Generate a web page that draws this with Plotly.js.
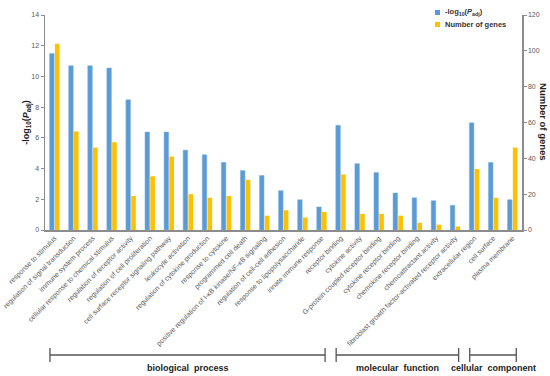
<!DOCTYPE html>
<html>
<head>
<meta charset="utf-8">
<script src="https://cdn.plot.ly/plotly-3.0.1.min.js"></script>
<style>html,body{margin:0;padding:0;background:#fff;}#chart{width:550px;height:376px;}</style>
</head>
<body>
<div id="chart"></div>
<script>
var categories = [
  "response to stimulus",
  "regulation of signal transduction",
  "immune system process",
  "cellular response to chemical stimulus",
  "regulation of receptor activity",
  "regulation of cell proliferation",
  "cell surface receptor signaling pathway",
  "leukocyte activation",
  "regulation of cytokine production",
  "response to cytokine",
  "programmed cell death",
  "positive regulation of I-κB kinase/NF-κB signaling",
  "regulation of cell-cell adhesion",
  "response to lipopolysaccharide",
  "innate immune response",
  "receptor binding",
  "cytokine activity",
  "G-protein coupled receptor binding",
  "cytokine receptor binding",
  "chemokine receptor binding",
  "chemoattractant activity",
  "fibroblast growth factor-activated receptor activity",
  "extracellular region",
  "cell surface",
  "plasma membrane"
];
var negLogPadj = [11.5, 10.7, 10.7, 10.55, 8.48, 6.38, 6.38, 5.2, 4.9, 4.4, 3.87, 3.55, 2.56, 1.97, 1.5,
                  6.82, 4.32, 3.74, 2.41, 2.1, 1.91, 1.61, 6.98, 4.4, 1.97];
var geneCounts = [104, 55, 46, 49, 19, 30, 41, 20, 18, 19, 28, 8, 11, 7, 10,
                  31, 9, 9, 8, 4, 3, 2, 34, 18, 46];
var seriesNames = ["-log<sub>10</sub>(<i>P</i><sub>adj</sub>)", "Number of genes"];
var groupNames = ["biological  process", "molecular  function", "cellular  component"];
var groupSizes = [15, 7, 3];
var leftTicks = [0, 2, 4, 6, 8, 10, 12, 14];
var rightTicks = [0, 20, 40, 60, 80, 100, 120];

var BLUE = "#5B9BD5", YELLOW = "#FFC000", GRAY = "#595959", AXIS = "#8c8c8c";
var FONT = "Liberation Sans, Arial, sans-serif";
var xIdx = categories.map(function(_, i){ return i; });

var traces = [
  {type: "bar", x: xIdx, y: negLogPadj, yaxis: "y", width: 0.24, offset: -0.26, name: seriesNames[0],
   marker: {color: BLUE, line: {color: "#7fb3e0", width: 0.5}}, showlegend: false, hoverinfo: "y"},
  {type: "bar", x: xIdx, y: geneCounts, yaxis: "y2", width: 0.24, offset: 0.02, name: seriesNames[1],
   marker: {color: YELLOW}, showlegend: false, hoverinfo: "y"}
];

var shapes = [], annotations = [];
var yLine = -0.5814, yTop = -0.549, yBot = -0.614;
var start = 0;
for (var g = 0; g < groupSizes.length; g++) {
  var x0 = start - 0.24, x1 = start + groupSizes[g] - 0.82;
  if (g === groupSizes.length - 1) x1 = start + groupSizes[g] - 0.8;
  var ln = {color: "#555", width: 1.3};
  shapes.push({type: "line", xref: "x", yref: "paper", x0: x0, x1: x1, y0: yLine, y1: yLine, line: ln});
  shapes.push({type: "line", xref: "x", yref: "paper", x0: x0, x1: x0, y0: yTop, y1: yBot, line: ln});
  shapes.push({type: "line", xref: "x", yref: "paper", x0: x1, x1: x1, y0: yTop, y1: yBot, line: ln});
  annotations.push({xref: "x", yref: "paper", x: (x0 + x1) / 2, y: -0.642, text: "<b>" + groupNames[g] + "</b>",
    showarrow: false, font: {size: 9, color: "#222", family: FONT}, xanchor: "center", yanchor: "middle"});
  start += groupSizes[g];
}
// right axis title (reads top to bottom)
annotations.push({xref: "paper", yref: "paper", x: 1.045, y: 0.5, text: "<b>Number of genes</b>", textangle: 90,
  showarrow: false, font: {size: 9.5, color: "#222", family: FONT}, xanchor: "center", yanchor: "middle"});

// legend (drawn as small squares + labels)
var legColors = [BLUE, YELLOW];
var legRows = [[1.0233, 1.0, 1.014], [0.9674, 0.9442, 0.9558]];
for (var k = 0; k < 2; k++) {
  shapes.push({type: "rect", xref: "paper", yref: "paper", x0: 0.8176, x1: 0.8281,
    y0: legRows[k][1], y1: legRows[k][0], fillcolor: legColors[k], line: {width: 0}});
  annotations.push({xref: "paper", yref: "paper", x: 0.8344, y: legRows[k][2], xanchor: "left", yanchor: "middle",
    text: "<b>" + seriesNames[k] + "</b>", showarrow: false, font: {size: 7.5, color: "#333", family: FONT}});
}

var layout = {
  width: 550, height: 376,
  margin: {l: 45, r: 28, t: 15, b: 146},
  paper_bgcolor: "#fff", plot_bgcolor: "#fff",
  font: {family: FONT, color: GRAY, size: 7},
  barmode: "overlay",
  showlegend: false,
  xaxis: {
    type: "linear", range: [-0.5, 24.5], tickmode: "array", tickvals: xIdx, ticktext: categories,
    tickangle: -45, showgrid: false, zeroline: false, showline: true, linecolor: AXIS, linewidth: 1.5,
    ticks: "", tickfont: {size: 7, color: GRAY}, automargin: false
  },
  yaxis: {
    range: [0, 14], tickmode: "array", tickvals: leftTicks, showgrid: false, zeroline: false,
    showline: true, linecolor: AXIS, linewidth: 1.5, ticks: "outside", ticklen: 3, tickcolor: AXIS,
    tickfont: {size: 7, color: GRAY}, automargin: false,
    title: {text: "<b>-log<sub>10</sub>(<i>P</i><sub>adj</sub>)</b>", font: {size: 9, color: "#222"}, standoff: 0}
  },
  yaxis2: {
    overlaying: "y", side: "right", range: [0, 120], tickmode: "array", tickvals: rightTicks,
    showgrid: false, zeroline: false, showline: true, linecolor: AXIS, linewidth: 1.5,
    ticks: "outside", ticklen: 3, tickcolor: AXIS, tickfont: {size: 7, color: GRAY}, automargin: false
  },
  shapes: shapes,
  annotations: annotations
};

Plotly.newPlot("chart", traces, layout, {displayModeBar: false, staticPlot: true});
</script>
</body>
</html>
